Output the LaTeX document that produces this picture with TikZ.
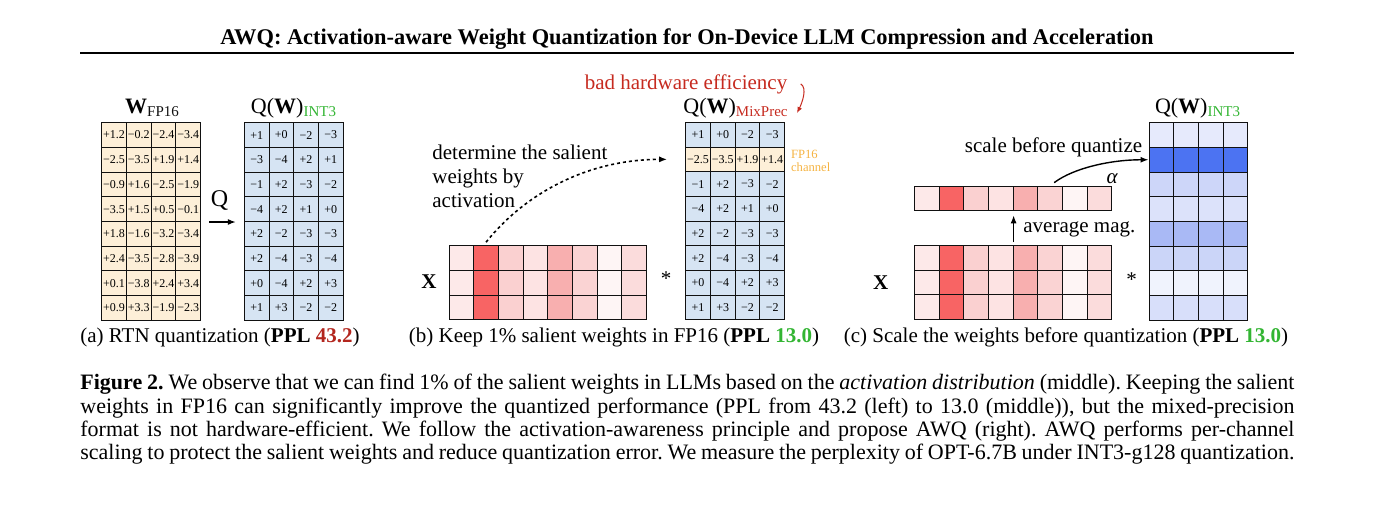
\documentclass[tikz,border=0pt]{standalone}
\usepackage{fontspec}
\setmainfont{Liberation Serif}
\usepackage{tikz}
\usetikzlibrary{arrows.meta,calc,positioning}
\definecolor{ink}{HTML}{111111}
\definecolor{peach}{HTML}{FDEFD8}
\definecolor{sky}{HTML}{D6E4F3}
\definecolor{leaf}{HTML}{33B533}
\definecolor{brick}{HTML}{B3261E}
\definecolor{alarm}{HTML}{C62A1F}
\definecolor{amber}{HTML}{F5B342}
\definecolor{act1}{HTML}{FDE9E9}
\definecolor{act2}{HTML}{F86464}
\definecolor{act3}{HTML}{FAD0D0}
\definecolor{act4}{HTML}{FDE3E3}
\definecolor{act5}{HTML}{F8AFAF}
\definecolor{act6}{HTML}{FAD3D3}
\definecolor{act7}{HTML}{FEF5F5}
\definecolor{act8}{HTML}{FBDCDC}
\definecolor{wq1}{HTML}{E6EAFC}
\definecolor{wq2}{HTML}{4C73F2}
\definecolor{wq3}{HTML}{CDD6F9}
\definecolor{wq4}{HTML}{DCE2FA}
\definecolor{wq5}{HTML}{A9B9F5}
\definecolor{wq6}{HTML}{CBD5F8}
\definecolor{wq7}{HTML}{F0F3FD}
\definecolor{wq8}{HTML}{D8DFFA}
\newcommand{\subtag}[2]{\raisebox{-0.35ex}{\fontsize{7.5}{8}\selectfont\color{#1}#2}}

\begin{document}
\begin{tikzpicture}[x=0.5pt,y=-0.5pt,
  cell/.style={draw=ink,line width=0.5pt,minimum width=12.35pt,minimum height=12.35pt,inner sep=0pt,font=\fontsize{6}{7}\selectfont},
  note/.style={inner sep=0pt,font=\fontsize{10.5}{12}\selectfont},
  head/.style={inner sep=0pt,anchor=base,font=\fontsize{11}{13}\selectfont},
  tip/.style={-{Latex[length=4pt,width=3pt]},line width=0.6pt},
  dotarrow/.style={-{Latex[length=4pt,width=3pt]},line width=0.8pt,dash pattern=on 1.5pt off 1.5pt}]
  \useasboundingbox (0,0) rectangle (1400,520);
  \def\s{24.7}
  \node[inner sep=0pt,anchor=base,font=\bfseries\fontsize{11.2}{13}\selectfont] (title) at (687,44)
    {AWQ: Activation-aware Weight Quantization for On-Device LLM Compression and Acceleration};
  \draw[line width=1pt] (80,53) -- (1294,53);

  \foreach \vals [count=\r] in {{+1.2,−0.2,−2.4,−3.4},{−2.5,−3.5,+1.9,+1.4},{−0.9,+1.6,−2.5,−1.9},{−3.5,+1.5,+0.5,−0.1},
      {+1.8,−1.6,−3.2,−3.4},{+2.4,−3.5,−2.8,−3.9},{+0.1,−3.8,+2.4,+3.4},{+0.9,+3.3,−1.9,−2.3}} {
    \foreach \v [count=\c] in \vals
      \node[cell,fill=peach] (wf-\r-\c) at ({101.7+(\c-0.5)*\s},{122.7+(\r-0.5)*\s}) {\v};
  }
  \foreach \vals [count=\r] in {{+1,+0,−2,−3},{−3,−4,+2,+1},{−1,+2,−3,−2},{−4,+2,+1,+0},
      {+2,−2,−3,−3},{+2,−4,−3,−4},{+0,−4,+2,+3},{+1,+3,−2,−2}} {
    \foreach \v [count=\c] in \vals
      \node[cell,fill=sky] (qa-\r-\c) at ({244.3+(\c-0.5)*\s},{122.7+(\r-0.5)*\s}) {\v};
  }
  \node[head] (wf-title) at (152,113) {\textbf{W}\subtag{ink}{FP16}};
  \node[head] (qa-title) at (293.5,113) {Q(\textbf{W})\subtag{leaf}{INT3}};
  \draw[tip] ([xshift=4pt]wf-4-4.south east) -- ([xshift=-4pt]qa-4-1.south west);
  \node[note,font=\fontsize{12}{14}\selectfont] (qlab) at (219.5,200) {Q};
  \node[note,anchor=base] (cap-a) at (220,342) {(a) RTN quantization (\textbf{PPL \color{brick}43.2})};

  \foreach \r in {1,2,3}
    \foreach \c in {1,...,8}
      \node[cell,fill=act\c] (xb-\r-\c) at ({449+(\c-0.5)*\s},{245.7+(\r-0.5)*\s}) {};
  \foreach \vals [count=\r] in {{+1,+0,−2,−3},{−2.5,−3.5,+1.9,+1.4},{−1,+2,−3,−2},{−4,+2,+1,+0},
      {+2,−2,−3,−3},{+2,−4,−3,−4},{+0,−4,+2,+3},{+1,+3,−2,−2}} {
    \ifnum\r=2 \def\cf{peach}\else\def\cf{sky}\fi
    \foreach \v [count=\c] in \vals
      \node[cell,fill=\cf] (mp-\r-\c) at ({685.7+(\c-0.5)*\s},{122.3+(\r-0.5)*\s}) {\v};
  }
  \node[head] (mp-title) at (735.5,113) {Q(\textbf{W})\subtag{alarm}{MixPrec}};
  \node[note,anchor=base,text=alarm] (bad) at (686,89) {bad hardware efficiency};
  \draw[alarm,line width=0.5pt,-{Latex[length=3pt,width=2.5pt]}] ([xshift=6.5pt]bad.east)
    .. controls +(7,4) and +(5,-10) .. ([xshift=4.5pt]mp-title.base east);
  \node[inner sep=0pt,anchor=north west,align=left,text=amber,font=\fontsize{6.3}{6.5}\selectfont] (fp16) at (790.7,150) {FP16\\channel};
  \node[note,anchor=north west,align=left] (determine) at (432,145) {determine the salient\\weights by\\activation};
  \draw[dotarrow] ([yshift=1.5pt]xb-1-2.north) .. controls +(40,-50) and +(-78,0) .. ([xshift=-9pt]mp-2-1.west);
  \node[note,font=\bfseries\fontsize{10.5}{12}\selectfont] (xb-lab) at (429,282) {X};
  \node[note] (xb-star) at (666,279) {*};
  \node[note,anchor=base] (cap-b) at (614,342) {(b) Keep 1\% salient weights in FP16 (\textbf{PPL \color{leaf}13.0})};

  \foreach \c in {1,...,8}
    \node[cell,fill=act\c] (al-\c) at ({914.3+(\c-0.5)*\s},198.5) {};
  \foreach \r in {1,2,3}
    \foreach \c in {1,...,8}
      \node[cell,fill=act\c] (xc-\r-\c) at ({914.3+(\c-0.5)*\s},{245.5+(\r-0.5)*\s}) {};
  \foreach \r in {1,...,8}
    \foreach \c in {1,...,4}
      \node[cell,fill=wq\r] (qc-\r-\c) at ({1149+(\c-0.5)*\s},{122.7+(\r-0.5)*\s}) {};
  \node[head] (qc-title) at (1197.5,113) {Q(\textbf{W})\subtag{leaf}{INT3}};
  \draw[tip,shorten <=1.5pt,shorten >=2pt] (xc-1-4.north east) -- (al-4.south east);
  \node[note,anchor=base west] (avg) at (1023,232) {average mag.};
  \node[note,anchor=base] (scale) at (1053.5,152.5) {scale before quantize};
  \node[note] (alpha) at (1112,179) {\itshape α};
  \draw[tip,line width=0.7pt] ([shift={(4,-3)}]al-6.north) .. controls +(20,-15) and +(-37,0) .. (qc-2-1.west);
  \node[note,font=\bfseries\fontsize{10.5}{12}\selectfont] (xc-lab) at (880.7,283) {X};
  \node[note] (xc-star) at (1131.7,280) {*};
  \node[note,anchor=base] (cap-c) at (1066,342) {(c) Scale the weights before quantization (\textbf{PPL \color{leaf}13.0})};

  \node[anchor=north west,inner sep=0pt,text width=607pt,align=justify,font=\fontsize{11}{11.65}\selectfont] (figcap) at (80,374)
    {\frenchspacing\hyphenpenalty=10000\exhyphenpenalty=10000\spaceskip=0.25em plus 0.2em minus 0.1em
     \textbf{Figure 2.} We observe that we can find 1\% of the salient weights in LLMs based on the \textit{activation distribution} (middle). Keeping the salient\linebreak
     weights in FP16 can significantly improve the quantized performance (PPL from 43.2 (left) to 13.0 (middle)), but the mixed-precision\linebreak
     format is not hardware-efficient. We follow the activation-awareness principle and propose AWQ (right). AWQ performs per-channel\linebreak
     scaling to protect the salient weights and reduce quantization error. We measure the perplexity of OPT-6.7B under INT3-g128 quantization.\parfillskip=0pt\par};
\end{tikzpicture}
\end{document}
